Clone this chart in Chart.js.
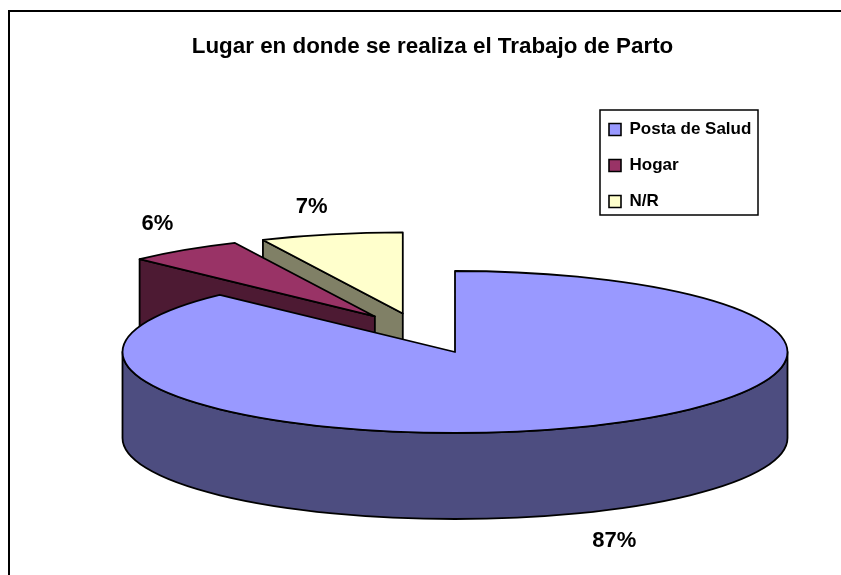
<!DOCTYPE html>
<html><head><meta charset="utf-8">
<style>
html,body{margin:0;padding:0;background:#fff;overflow:hidden}
#wrap{position:relative;width:841px;height:575px;overflow:hidden}
#frame{position:absolute;left:8px;top:10px;width:900px;height:600px;border:2px solid #000;box-sizing:border-box}
canvas{position:absolute;left:0;top:0}
</style>
<script src="https://cdn.jsdelivr.net/npm/chart.js@4"></script>
</head><body>
<div id="wrap"><div id="frame"></div><canvas id="c" width="841" height="575"></canvas></div>
<script>
const titleText = 'Lugar en donde se realiza el Trabajo de Parto';
const categories = ['Posta de Salud', 'Hogar', 'N/R'];
const shareValues = [87.49, 5.6, 6.91];
const topColors = ['#9999FF', '#993366', '#FFFFCC'];
const wallColors = ['#4D4D80', '#4D1A33', '#808066'];
const explodeX = [0, -0.241, -0.157];
const explodeY = [0, -0.439, -0.476];
const labelX = [0.479, -0.895, -0.431];
const labelY = [2.33, -1.585, -1.79];

const pie3d = {
  id: 'pie3d',
  afterLayout(chart, args, o) {
    const l = chart.legend;
    l.left = o.legendLeft; l.right = l.left + l.width;
    l.top = o.legendTop; l.bottom = l.top + l.height;
  },
  beforeDatasetsDraw(chart, args, o) {
    const ctx = chart.ctx, arcs = chart.getDatasetMeta(0).data;
    const {cx, cy, rx, ry, depth} = o;
    ctx.save();
    ctx.lineWidth = o.lineWidth; ctx.strokeStyle = '#000'; ctx.lineJoin = 'round';
    for (let i = arcs.length - 1; i >= 0; i--) {
      const a = arcs[i].getProps(['startAngle', 'endAngle'], true);
      const s = a.startAngle, e = a.endAngle;
      const ax = cx + explodeX[i] * rx, ay = cy + explodeY[i] * ry;
      const px = t => ax + Math.cos(t) * rx, py = t => ay + Math.sin(t) * ry;
      ctx.fillStyle = wallColors[i];
      const face = t => {
        ctx.beginPath(); ctx.moveTo(ax, ay); ctx.lineTo(px(t), py(t));
        ctx.lineTo(px(t), py(t) + depth); ctx.lineTo(ax, ay + depth);
        ctx.closePath(); ctx.fill(); ctx.stroke();
      };
      if (Math.cos(s) < -1e-6) face(s);
      if (Math.cos(e) > 1e-6) face(e);
      const ws = Math.max(s, 0), we = Math.min(e, Math.PI);
      if (we > ws) {
        ctx.beginPath();
        ctx.ellipse(ax, ay, rx, ry, 0, ws, we);
        ctx.ellipse(ax, ay + depth, rx, ry, 0, we, ws, true);
        ctx.closePath(); ctx.fill(); ctx.stroke();
      }
      ctx.fillStyle = arcs[i].options.backgroundColor;
      ctx.beginPath(); ctx.moveTo(ax, ay);
      ctx.ellipse(ax, ay, rx, ry, 0, s, e);
      ctx.closePath(); ctx.fill(); ctx.stroke();
    }
    ctx.restore();
    return false;
  },
  afterDraw(chart, args, o) {
    const ctx = chart.ctx;
    ctx.save();
    ctx.strokeStyle = '#000'; ctx.lineWidth = 1.5;
    ctx.strokeRect(o.boxX, o.boxY, o.boxW, o.boxH);
    ctx.fillStyle = '#000';
    ctx.font = o.labelFont;
    ctx.textAlign = 'center'; ctx.textBaseline = 'middle';
    chart.data.datasets[0].data.forEach((v, i) => {
      ctx.fillText(Math.round(v) + '%', o.cx + labelX[i] * o.rx, o.cy + labelY[i] * o.ry);
    });
    ctx.restore();
  }
};

new Chart(document.getElementById('c'), {
  type: 'pie',
  data: { labels: categories, datasets: [{
    data: shareValues, backgroundColor: topColors, borderColor: '#000', borderWidth: 1.6
  }]},
  plugins: [pie3d],
  options: {
    responsive: false, animation: false,
    layout: { padding: { left: 24 } },
    plugins: {
      tooltip: { enabled: false },
      title: { display: true, text: titleText, color: '#000',
        padding: { top: 33, bottom: 10 },
        font: { family: '"Liberation Sans", Arial, sans-serif', size: 22.4, weight: 'bold' } },
      legend: { position: 'right', fullSize: false, align: 'start',
        labels: { boxWidth: 12, boxHeight: 12, padding: 19, color: '#000',
          font: { family: '"Liberation Sans", Arial, sans-serif', size: 17, weight: 'bold' } } },
      pie3d: { cx: 455, cy: 352, rx: 332.5, ry: 81, depth: 86, lineWidth: 1.8,
        legendLeft: 590, legendTop: 102,
        boxX: 600, boxY: 110, boxW: 158, boxH: 105,
        labelFont: 'bold 22px "Liberation Sans", Arial, sans-serif' }
    }
  }
});
</script>
</body></html>
